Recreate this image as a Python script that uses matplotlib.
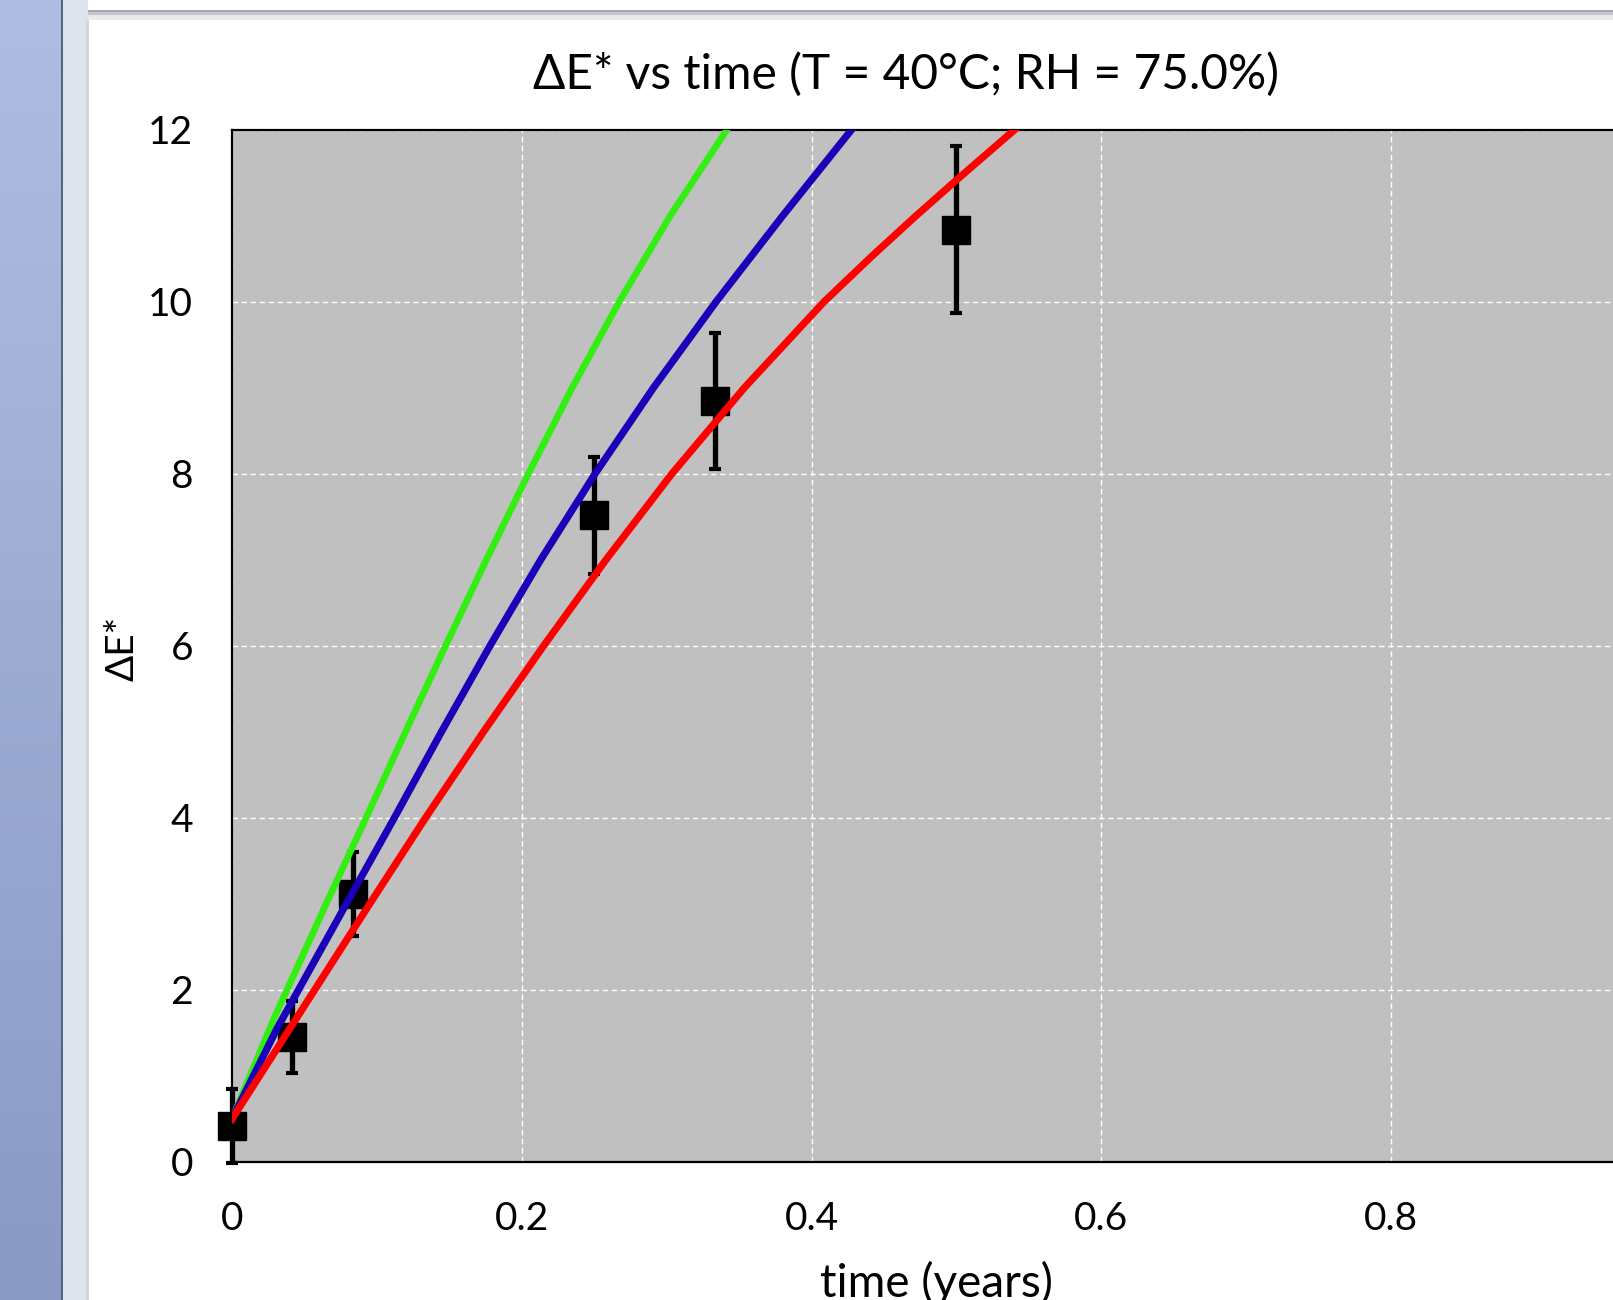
import numpy as np
import matplotlib
matplotlib.use("Agg")
import matplotlib.pyplot as plt
from matplotlib.patches import Rectangle

plt.rcParams['font.family'] = ['Lato', 'Noto Sans', 'DejaVu Sans']

# measured points (time in years, Delta E*)
t_meas = [0.0, 0.0417, 0.0833, 0.25, 0.3333, 0.5]
de_meas = [0.42, 1.45, 3.12, 7.52, 8.85, 10.84]
de_err = [0.43, 0.42, 0.49, 0.68, 0.79, 0.97]

# model curves
t_green = [0.0, 0.029, 0.0663, 0.0925, 0.1197, 0.1473, 0.1755, 0.2045, 0.2347, 0.2672, 0.3024, 0.3415]
de_green = [0.5, 1.67, 3.05, 4.0, 5.0, 6.0, 7.0, 8.0, 9.0, 10.0, 11.0, 12.0]

t_blue = [0.0, 0.031, 0.0805, 0.112, 0.1445, 0.178, 0.213, 0.2505, 0.2908, 0.334, 0.38, 0.4275]
de_blue = [0.5, 1.55, 3.05, 4.0, 5.0, 6.0, 7.0, 8.0, 9.0, 10.0, 11.0, 12.0]

t_red = [0.0, 0.057, 0.095, 0.1335, 0.1735, 0.215, 0.258, 0.3035, 0.3535, 0.4085, 0.4415, 0.472, 0.5002, 0.540]
de_red = [0.5, 2.0, 3.0, 4.0, 5.0, 6.0, 7.0, 8.0, 9.0, 10.0, 10.53, 11.0, 11.42, 12.0]

x_ticks = [0, 0.2, 0.4, 0.6, 0.8]
x_ticklabels = ["0", "0.2", "0.4", "0.6", "0.8"]
y_ticks = [0, 2, 4, 6, 8, 10, 12]

W, H = 1613, 1300
fig = plt.figure(figsize=(W / 100, H / 100), dpi=100)
fig.patch.set_facecolor('white')


def px_rect(x0, y0, x1, y1, color):
    # rectangle given in pixel coords, origin top-left
    fig.patches.append(Rectangle((x0 / W, 1 - y1 / H), (x1 - x0) / W, (y1 - y0) / H,
                                 transform=fig.transFigure, facecolor=color,
                                 edgecolor='none', zorder=-1))


# window chrome around the Excel chart
px_rect(63, 0, 88, H, '#e0e4ee')
px_rect(86, 20, 89, H, '#d4d6da')
px_rect(88, 10, W, 12, '#a4a6ae')
px_rect(88, 12, W, 15, '#c4c6cc')
px_rect(88, 15, W, 20, '#ebebee')
px_rect(61, 0, 63, H, '#56657f')

strip = fig.add_axes([0, 0, 61 / W, 1])
grad = np.linspace(0, 1, 256).reshape(-1, 1)
top = np.array([176, 189, 226]) / 255
bot = np.array([138, 154, 196]) / 255
img = top + grad[:, :, None] * (bot - top)
strip.imshow(img, aspect='auto', extent=[0, 1, 0, 1])
strip.axis('off')

# plot area, runs past the right edge like the screenshot
ax = fig.add_axes([232 / W, 1 - 1162 / H, 1448.75 / W, (1162 - 130) / H])
ax.set_facecolor('#c0c0c0')
ax.set_xlim(0, 1)
ax.set_ylim(0, 12)
ax.set_xticks(x_ticks)
ax.set_xticklabels(x_ticklabels)
ax.set_yticks(y_ticks)
ax.tick_params(length=0, labelsize=28, pad=28)
ax.grid(True, color='white', linestyle=(0, (4, 2.5)), linewidth=1.0)
ax.set_axisbelow(True)
for s in ax.spines.values():
    s.set_linewidth(1.6)
    s.set_color('black')

eb = ax.errorbar(t_meas, de_meas, yerr=de_err, fmt='s', color='black', ms=19.5,
                 elinewidth=3.8, capsize=4, capthick=3, zorder=3)
for artist in eb.lines[0:1] + tuple(eb.lines[1]) + tuple(eb.lines[2]):
    artist.set_clip_on(False)

ax.plot(t_green, de_green, color='#33ee11', lw=4.8, zorder=4, solid_joinstyle='round')
ax.plot(t_blue, de_blue, color='#1a00b8', lw=5.2, zorder=4, solid_joinstyle='round')
ax.plot(t_red, de_red, color='#ff0000', lw=5.2, zorder=4, solid_joinstyle='round')

fig.text(906 / W, 1 - 74 / H, "ΔE* vs time (T = 40°C; RH = 75.0%)",
         ha='center', va='center', fontsize=34.5)
fig.text(122 / W, 1 - 648 / H, "ΔE*", rotation=90, ha='center', va='center',
         fontsize=28)
fig.text(937 / W, 1 - 1297 / H, "time (years)", ha='center', va='baseline',
         fontsize=33)

fig.savefig("out.png", dpi=100)
